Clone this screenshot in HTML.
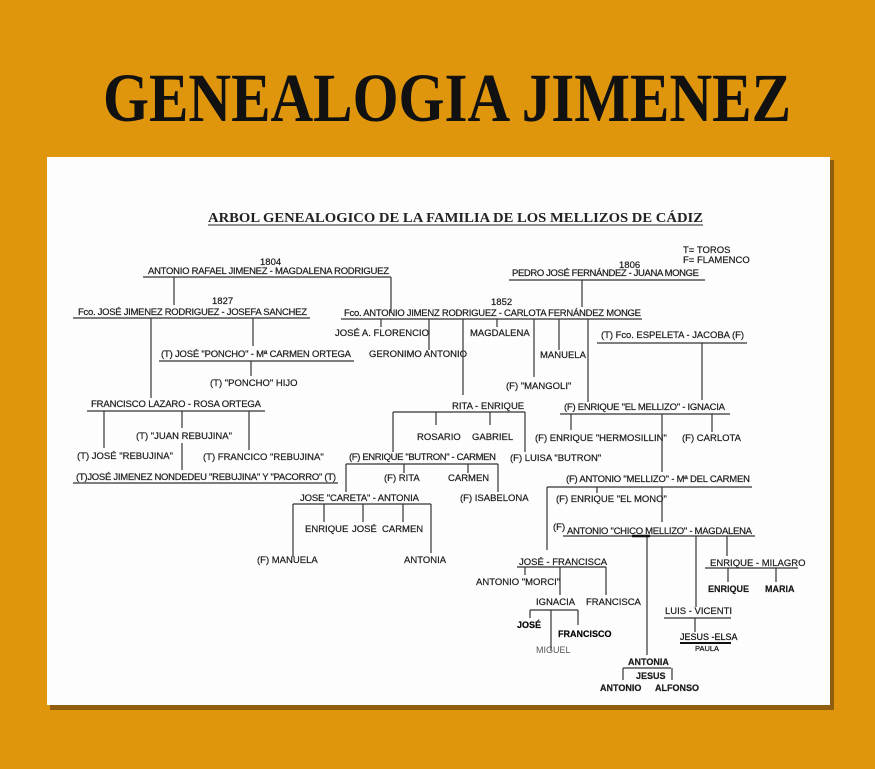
<!DOCTYPE html>
<html><head><meta charset="utf-8"><style>
html,body{margin:0;padding:0;background:#DF960D;}
svg{display:block}
</style></head><body>
<svg width="875" height="769" viewBox="0 0 875 769" xmlns="http://www.w3.org/2000/svg">
<rect width="875" height="769" fill="#DF960D"/>
<text x="103" y="121" font-family="Liberation Serif, serif" font-weight="bold" font-size="69" textLength="688" lengthAdjust="spacingAndGlyphs" fill="#111">GENEALOGIA JIMENEZ</text>
<rect x="50" y="160" width="784" height="550" fill="#5a3a10" opacity="0.6"/>
<rect x="47" y="157" width="783" height="548" fill="#fdfdfd"/>
<text x="208" y="222" font-family="Liberation Serif, serif" font-weight="bold" font-size="13.5" textLength="495" lengthAdjust="spacingAndGlyphs" fill="#222">ARBOL GENEALOGICO DE LA FAMILIA DE LOS MELLIZOS DE CÁDIZ</text>
<line x1="208" y1="225" x2="703" y2="225" stroke="#222" stroke-width="1"/>
<g font-family="Liberation Sans, sans-serif" font-size="9.5" fill="#1a1a1a" stroke="#1a1a1a" stroke-width="0.2">
<text x="683" y="253">T= TOROS</text>
<text x="683" y="263">F= FLAMENCO</text>
<text x="260" y="265">1804</text>
<text x="148" y="274" textLength="241">ANTONIO RAFAEL JIMENEZ - MAGDALENA RODRIGUEZ</text>
<text x="212" y="304">1827</text>
<text x="78" y="315" textLength="229">Fco. JOSÉ JIMENEZ RODRIGUEZ - JOSEFA SANCHEZ</text>
<text x="161" y="357" textLength="190">(T) JOSÉ "PONCHO" - Mª CARMEN ORTEGA</text>
<text x="210" y="386">(T) "PONCHO" HIJO</text>
<text x="619" y="268">1806</text>
<text x="512" y="276" textLength="187">PEDRO JOSÉ FERNÁNDEZ - JUANA MONGE</text>
<text x="491" y="305">1852</text>
<text x="344" y="316" textLength="297">Fco. ANTONIO JIMENZ RODRIGUEZ - CARLOTA FERNÁNDEZ MONGE</text>
<text x="335" y="336">JOSÉ A. FLORENCIO</text>
<text x="369" y="357">GERONIMO ANTONIO</text>
<text x="470" y="336">MAGDALENA</text>
<text x="540" y="358">MANUELA</text>
<text x="506" y="389">(F) "MANGOLI"</text>
<text x="601" y="338" textLength="143">(T) Fco. ESPELETA - JACOBA (F)</text>
<text x="91" y="407" textLength="170">FRANCISCO LAZARO - ROSA ORTEGA</text>
<text x="136" y="439">(T) "JUAN REBUJINA"</text>
<text x="77" y="459">(T) JOSÉ "REBUJINA"</text>
<text x="203" y="460">(T) FRANCICO "REBUJINA"</text>
<text x="76" y="480" textLength="260">(T)JOSÉ JIMENEZ NONDEDEU "REBUJINA" Y "PACORRO" (T)</text>
<text x="452" y="409">RITA - ENRIQUE</text>
<text x="417" y="440">ROSARIO</text>
<text x="472" y="440">GABRIEL</text>
<text x="510" y="461">(F) LUISA "BUTRON"</text>
<text x="349" y="460" textLength="147">(F) ENRIQUE "BUTRON" - CARMEN</text>
<text x="384" y="481">(F) RITA</text>
<text x="448" y="481">CARMEN</text>
<text x="460" y="501">(F) ISABELONA</text>
<text x="300" y="501" textLength="119">JOSE "CARETA" - ANTONIA</text>
<text x="305" y="532">ENRIQUE</text>
<text x="352" y="532">JOSÉ</text>
<text x="382" y="532">CARMEN</text>
<text x="257" y="563">(F) MANUELA</text>
<text x="404" y="563">ANTONIA</text>
<text x="564" y="410" textLength="161">(F) ENRIQUE "EL MELLIZO" - IGNACIA</text>
<text x="535" y="441">(F) ENRIQUE "HERMOSILLIN"</text>
<text x="682" y="441">(F) CARLOTA</text>
<text x="566" y="482" textLength="184">(F) ANTONIO "MELLIZO" - Mª DEL CARMEN</text>
<text x="556" y="502">(F) ENRIQUE "EL MONO"</text>
<text x="553" y="530">(F)</text>
<text x="567" y="534" textLength="185">ANTONIO "CHICO MELLIZO" - MAGDALENA</text>
<text x="519" y="565">JOSÉ - FRANCISCA</text>
<text x="476" y="585">ANTONIO "MORCI"</text>
<text x="536" y="605">IGNACIA</text>
<text x="586" y="605">FRANCISCA</text>
<text x="517" y="628" font-weight="bold" fill="#000" font-size="9">JOSÉ</text>
<text x="558" y="637" font-weight="bold" fill="#000" font-size="9">FRANCISCO</text>
<text x="536" y="653" fill="#555" stroke="none" font-size="9">MIGUEL</text>
<text x="710" y="566">ENRIQUE - MILAGRO</text>
<text x="708" y="592" font-weight="bold" font-size="9">ENRIQUE</text>
<text x="765" y="592" font-weight="bold" font-size="9">MARIA</text>
<text x="665" y="614">LUIS - VICENTI</text>
<text x="680" y="640" fill="#000" font-size="9">JESUS -ELSA</text>
<text x="695" y="651" fill="#000" font-size="7.5">PAULA</text>
<text x="628" y="665" font-weight="bold" font-size="9">ANTONIA</text>
<text x="636" y="679" font-weight="bold" font-size="9">JESUS</text>
<text x="600" y="691" font-weight="bold" font-size="9">ANTONIO</text>
<text x="655" y="691" font-weight="bold" font-size="9">ALFONSO</text>
</g>
<g stroke="#333" stroke-width="1.2" fill="none">
<path d="M143 277H391M174 277V305M391 277V313"/>
<path d="M73 318H310M151 318V398M253 318V346"/>
<path d="M159 361H354M251 361V376"/>
<path d="M509 280H705M582 280V307"/>
<path d="M341 319H642M381 319V327M429 319V350M463 319V395M497 319V327M534 319V377M559 319V350M588 319V402"/>
<path d="M597 343H747M702 343V400"/>
<path d="M87 411H265M104 411V448M182 411V428M182 443V470M249 411V450M73 483H338"/>
<path d="M393 412H525M393 412V452M436 412V425M490 412V425M525 412V452"/>
<path d="M346 464H498M346 464V492M404 464V473M468 464V473M498 464V492"/>
<path d="M293 504H431M293 504V557M324 504V522M363 504V522M403 504V522M431 504V553"/>
<path d="M560 414H730M571 414V430M662 414V472M712 414V432"/>
<path d="M547 487H752M547 487V550M597 487V493M662 487V522"/>
<path d="M563 536H755M647 536V655M696 536V607M727 536V556"/>
<path d="M517 567H606M525 567V575M560 567V595M606 567V595"/>
<path d="M530 610H578M530 610V618M551 610V650M578 610V625"/>
<path d="M705 568H798M728 568V582M776 568V582"/>
<path d="M664 618H731M695 618V632"/>
<path d="M623 668H671M623 668V680M672 668V680"/>
</g>
<line x1="632" y1="536" x2="650" y2="536" stroke="#111" stroke-width="2.5"/>
<line x1="680" y1="643" x2="731" y2="643" stroke="#111" stroke-width="2"/>
</svg>
</body></html>
